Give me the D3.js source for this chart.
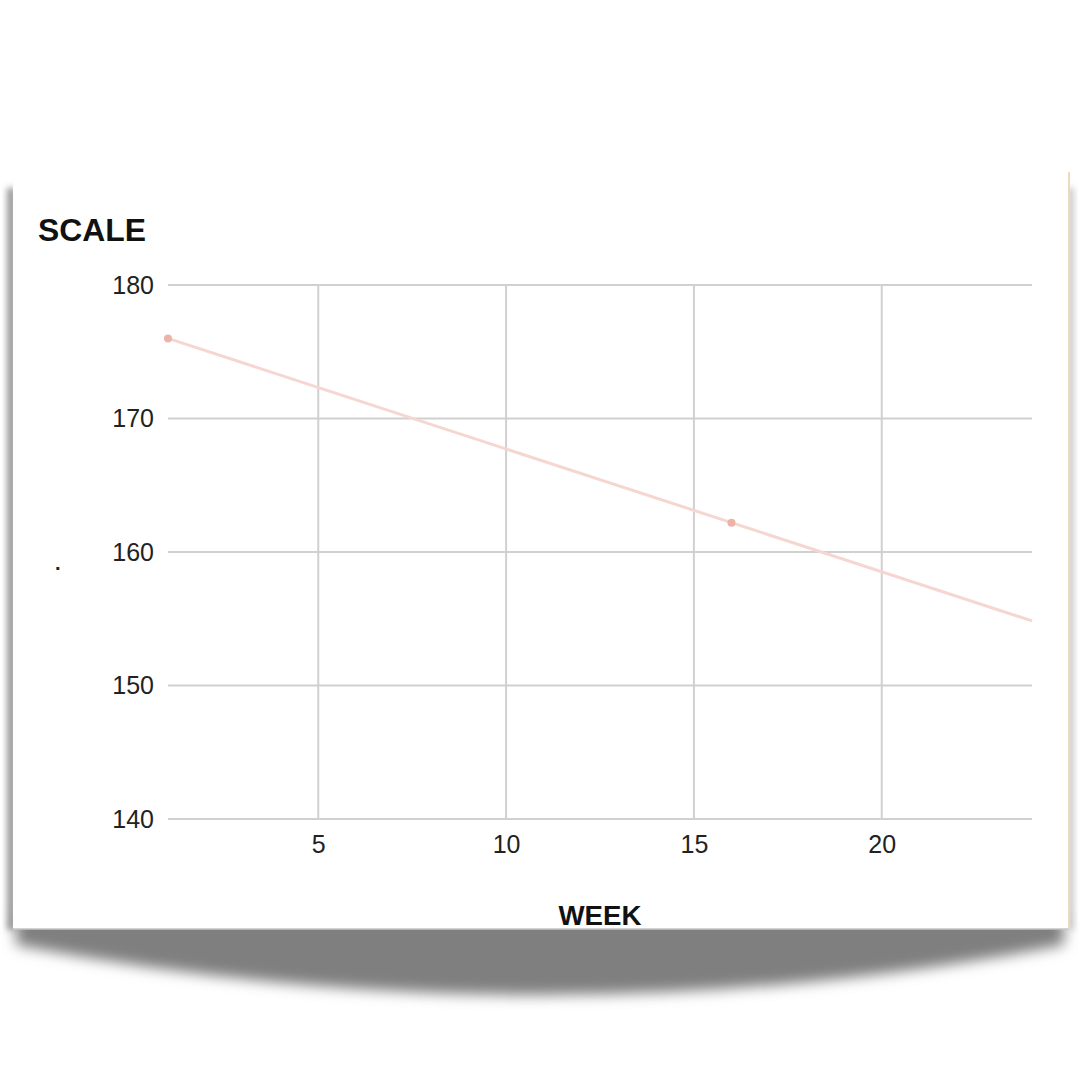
<!DOCTYPE html>
<html><head><meta charset="utf-8">
<script src="https://cdn.jsdelivr.net/npm/d3@7"></script>
<style>html,body{margin:0;padding:0;background:#fff;}svg{display:block;}</style>
</head><body>
<svg id="c" width="1080" height="1080"></svg>
<script>
const weeks = [1, 16];
const scaleValues = [176, 162.2];
const xTicks = [5, 10, 15, 20];
const yTicks = [140, 150, 160, 170, 180];
const xTitle = "WEEK";
const yTitle = "SCALE";

const FONT = "'Liberation Sans', Arial, sans-serif";
const svg = d3.select("#c");
const defs = svg.append("defs");
defs.append("filter").attr("id","blur").attr("x","-10%").attr("y","-50%").attr("width","120%").attr("height","200%")
  .append("feGaussianBlur").attr("stdDeviation", 7);
defs.append("filter").attr("id","blurS").attr("x","-50%").attr("y","-10%").attr("width","200%").attr("height","120%")
  .append("feGaussianBlur").attr("stdDeviation", 3);

// bottom curved shadow
svg.append("path")
  .attr("d","M16,915 L1064,915 L1064,945 Q540,1045 16,945 Z")
  .attr("fill","#7f7f7f").attr("filter","url(#blur)");
// side shadows
svg.append("rect").attr("x",7).attr("y",188).attr("width",9).attr("height",742)
  .attr("fill","#999").attr("filter","url(#blurS)");
svg.append("rect").attr("x",1066).attr("y",188).attr("width",8).attr("height",742)
  .attr("fill","#ccc").attr("filter","url(#blurS)");
// card
svg.append("rect").attr("x",13).attr("y",172).attr("width",1056).attr("height",757).attr("fill","#fff");
svg.append("line").attr("x1",13).attr("x2",1069).attr("y1",929).attr("y2",929).attr("stroke","#c4c4c4").attr("stroke-width",1.5);
svg.append("line").attr("x1",1069).attr("x2",1069).attr("y1",172).attr("y2",929).attr("stroke","#efd9bd").attr("stroke-width",2);

const x = d3.scaleLinear().domain([1,24]).range([168,1032]);
const y = d3.scaleLinear().domain([140,180]).range([819,285]);

const g = svg.append("g");
g.selectAll(".hg").data(yTicks).join("line")
  .attr("x1",x(1)).attr("x2",x(24)).attr("y1",d=>y(d)).attr("y2",d=>y(d))
  .attr("stroke","#d0d0d0").attr("stroke-width",2);
g.selectAll(".vg").data(xTicks).join("line")
  .attr("x1",d=>x(d)).attr("x2",d=>x(d)).attr("y1",y(180)).attr("y2",y(140))
  .attr("stroke","#d0d0d0").attr("stroke-width",2);

const ax = svg.append("g").attr("transform",`translate(0,${y(140)})`)
  .call(d3.axisBottom(x).tickValues(xTicks).tickSize(0).tickPadding(16));
ax.select(".domain").remove();
ax.selectAll("text").attr("font-family",FONT).attr("font-size",25).attr("fill","#222");
const ay = svg.append("g").attr("transform",`translate(${x(1)},0)`)
  .call(d3.axisLeft(y).tickValues(yTicks).tickSize(0).tickPadding(14));
ay.select(".domain").remove();
ay.selectAll("text").attr("font-family",FONT).attr("font-size",25).attr("fill","#222");

// trendline (linear regression of the points)
const mx = d3.mean(weeks), my = d3.mean(scaleValues);
const slope = d3.sum(weeks.map((w,i)=>(w-mx)*(scaleValues[i]-my))) / d3.sum(weeks.map(w=>(w-mx)*(w-mx)));
const icpt = my - slope*mx;
svg.append("path")
  .datum(x.domain().map(w=>[w, icpt + slope*w]))
  .attr("d", d3.line().x(d=>x(d[0])).y(d=>y(d[1])))
  .attr("fill","none").attr("stroke","#f5d6d0").attr("stroke-width",3);
svg.selectAll(".pt").data(weeks.map((w,i)=>[w,scaleValues[i]])).join("circle")
  .attr("cx",d=>x(d[0])).attr("cy",d=>y(d[1])).attr("r",4).attr("fill","#edb3a7");

// titles
svg.append("text").attr("x",38).attr("y",241).text(yTitle)
  .attr("font-family",FONT).attr("font-weight","bold").attr("font-size",31).attr("fill","#111")
  .attr("textLength",108).attr("lengthAdjust","spacingAndGlyphs");
svg.append("text").attr("x",600).attr("y",925).attr("text-anchor","middle").text(xTitle)
  .attr("font-family",FONT).attr("font-weight","bold").attr("font-size",27).attr("fill","#111")
  .attr("textLength",83).attr("lengthAdjust","spacingAndGlyphs");
svg.append("text").attr("x",55).attr("y",570).text(".")
  .attr("font-family",FONT).attr("font-weight","bold").attr("font-size",20).attr("fill","#222");
</script>
</body></html>
